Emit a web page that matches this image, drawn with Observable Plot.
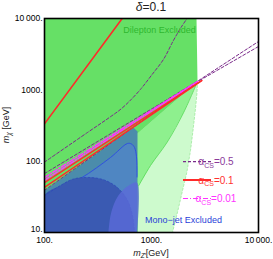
<!DOCTYPE html>
<html><head><meta charset="utf-8">
<script src="https://cdn.jsdelivr.net/npm/d3@7"></script>
<script src="https://cdn.jsdelivr.net/npm/@observablehq/plot@0.6"></script>
<style>body{margin:0;background:#fff} svg{display:block}</style>
</head><body><div id="chart"></div>
<script>
// axis ticks
const xTicks = [100, 1000, 10000];
const xTickLabels = ["100.", "1000.", "10\u2009000."];
const yTicks = [10, 100, 1000, 10000];
const yTickLabels = ["10.", "100.", "1000.", "10\u2009000."];

// excluded regions, [mZ' (GeV), mchi (GeV)]
const lightGreen = [[100,10],[100,1309],[2692,1309],[2660,900],[2578,547],[2450,280],[2315,141],[2140,70],[1950,38.8],[1760,20],[1571,10]];
const midGreen = [[100,10],[100,18],[735,242],[2692,1309],[2004,486],[1402,184.5],[979,86.9],[761,45.6],[745,10]];
const darkGreen = [[100,10000],[2634,10000],[2692,1309],[735,242],[100,18]];
const tealUpper = [[100,10],[100,38.5],[679,297],[740,260],[740,10]];
const monoOutline = [[100,10],[100,32],[217,57.2],[414,112.6],[597,177],[650,174],[694,155.4],[724,116],[732,60],[732,10]];
const monoCore = [[100,10],[100,33],[141,45.6],[186.6,56.2],[269,59],[372,53.6],[491,41.4],[597,28.1],[664,17.3],[694,10]];
const monoEdge = [[396,10],[414,17.3],[461,28.1],[536,38.8],[636,47],[732,50],[732,10]];

// relic-density curves
const a05Upper = [[100,97],[250,250],[400,405],[520,540],[650,740],[800,1040],[1000,1600],[1300,2700],[1600,4900],[1900,7600],[2150,10000]];
const a05LowA = [[100,67],[2692,1320],[10000,4760]];
const a05LowB = [[100,39],[2692,1300],[10000,4050]];
const a01Upper = [[100,334],[532,10000]];
const a01LowA = [[100,50],[2950,1350]];
const a01LowB = [[100,43],[2950,1345]];
const a001A = [[100,59],[2692,1312]];
const a001B = [[100,54],[2692,1306]];

const dileptonLabel = {x: 1188, y: 6790, text: "Dilepton Excluded"};
const monojetLabel = {x: 1991, y: 15.1, text: "Mono\u2212jet Excluded"};

const C = {
  dark: "#66e066", mid: "#8ef08e", light: "#cdfacd",
  teal: "#4b8cab", blueOut: "#4f86c2", core: "#3a5ab2", edge: "#5b6ad8",
  purple: "#7a2a8a", red: "#ff2a2a", magenta: "#ff33ff"
};

const poly = (pts, fill, o = {}) => Plot.line(pts, {x: d => d[0], y: d => d[1], fill, stroke: "none", clip: true, ...o});
const ln = (pts, stroke, o = {}) => Plot.line(pts, {x: d => d[0], y: d => d[1], stroke, fill: "none", clip: true, ...o});

const svg = Plot.plot({
  width: 273, height: 259,
  marginLeft: 44, marginRight: 15, marginTop: 18, marginBottom: 27,
  style: {fontFamily: "Liberation Sans, Arial, sans-serif", fontSize: "8.5px", background: "#fff", color: "#000"},
  x: {type: "log", domain: [100, 10000], ticks: xTicks, tickFormat: d => xTickLabels[xTicks.indexOf(d)], tickSize: 0, tickPadding: 4, label: null},
  y: {type: "log", domain: [10, 10000], ticks: yTicks, tickFormat: d => yTickLabels[yTicks.indexOf(d)], tickSize: 0, tickPadding: 2, label: null},
  marks: [
    poly(lightGreen, C.light),
    poly(midGreen, C.mid),
    poly(darkGreen, C.dark),
    ln(midGreen.slice(3, 8), "#55d855", {strokeWidth: 0.8, curve: "catmull-rom"}),
    ln(lightGreen.slice(2), "#9ee89e", {strokeWidth: 0.8, strokeDasharray: "2,2"}),
    poly(tealUpper, C.teal),
    poly(monoOutline, C.blueOut, {curve: "catmull-rom"}),
    ln(monoOutline.slice(1, 9), "#3050e0", {strokeWidth: 1, curve: "catmull-rom"}),
    poly(monoCore, C.core, {curve: "catmull-rom"}),
    ln(monoCore.slice(1), "#2c48b8", {strokeWidth: 0.8, strokeDasharray: "2,2", curve: "catmull-rom"}),
    poly(monoEdge, C.edge, {curve: "catmull-rom", fillOpacity: 0.8}),
    ln(a05Upper, C.purple, {strokeWidth: 1, strokeDasharray: "3,2", curve: "catmull-rom"}),
    ln(a05LowA, C.purple, {strokeWidth: 1, strokeDasharray: "3,2"}),
    ln(a05LowB, C.purple, {strokeWidth: 1, strokeDasharray: "3,2"}),
    ln(a001A, C.magenta, {strokeWidth: 1.5, strokeDasharray: "5,2,1,2"}),
    ln(a001B, C.magenta, {strokeWidth: 1.5, strokeDasharray: "5,2,1,2"}),
    ln(a01Upper, C.red, {strokeWidth: 1.6}),
    ln(a01LowA, C.red, {strokeWidth: 1.4}),
    ln(a01LowB, C.red, {strokeWidth: 1.4}),
    Plot.text([dileptonLabel], {x: "x", y: "y", text: "text", fill: "#2fb82f", fontSize: 9}),
    Plot.text([monojetLabel], {x: "x", y: "y", text: "text", fill: "#2a3fd8", fontSize: 9}),
    Plot.frame({stroke: "#000", strokeWidth: 1.6})
  ]
});

const s = d3.select(svg);
const F = "Liberation Sans, Arial, sans-serif";
// nudge the lowest y tick label up so it clears the first x tick label
s.selectAll("text").filter(function() { return this.textContent === "10."; })
  .each(function() {
    const tr = this.getAttribute("transform") || "";
    this.setAttribute("transform", tr + " translate(0,-3)");
  });
// title
const t = s.append("text").attr("x", 151).attr("y", 11).attr("text-anchor", "middle").attr("font-family", F).attr("font-size", 12).attr("fill", "#222");
t.append("tspan").attr("font-style", "italic").text("δ");
t.append("tspan").text("=0.1");
// y label
const yl = s.append("text").attr("transform", "translate(9,125) rotate(-90)").attr("text-anchor", "middle").attr("font-family", F).attr("font-size", 9).attr("fill", "#222");
yl.append("tspan").attr("font-style", "italic").text("m");
yl.append("tspan").attr("font-style", "italic").attr("font-size", 6.5).attr("dy", 2).text("χ");
yl.append("tspan").attr("dy", -2).text(" [GeV]");
// x label
const xl = s.append("text").attr("x", 151).attr("y", 256).attr("text-anchor", "middle").attr("font-family", F).attr("font-size", 9).attr("fill", "#222");
xl.append("tspan").attr("font-style", "italic").text("m");
xl.append("tspan").attr("font-style", "italic").attr("font-size", 6.5).attr("dy", 2).text("Z′");
xl.append("tspan").attr("dy", -2).text("[GeV]");
// legend
const legend = [
  {v: "0.5", c: C.purple, tc: "#8b3a9b", dash: "3,2", w: 1.2},
  {v: "0.1", c: C.red, tc: "#ff3030", dash: null, w: 2},
  {v: "0.01", c: C.magenta, tc: "#ff33ff", dash: "5,2,1,2", w: 1.2}
];
const ly = [161.7, 180, 198.5];
legend.forEach((e, i) => {
  const l = s.append("line").attr("x1", 183).attr("x2", 211).attr("y1", ly[i]).attr("y2", ly[i]).attr("stroke", e.c).attr("stroke-width", e.w);
  if (e.dash) l.attr("stroke-dasharray", e.dash);
  const tx = s.append("text").attr("x", 216).attr("y", ly[i] + 3.5).attr("font-family", F).attr("font-size", 10).attr("fill", e.tc);
  tx.append("tspan").text("α");
  tx.append("tspan").attr("font-size", 7).attr("dy", 2.5).text("CS");
  tx.append("tspan").attr("dy", -2.5).text("=" + e.v);
});
document.getElementById("chart").appendChild(svg);
</script>
</body></html>
